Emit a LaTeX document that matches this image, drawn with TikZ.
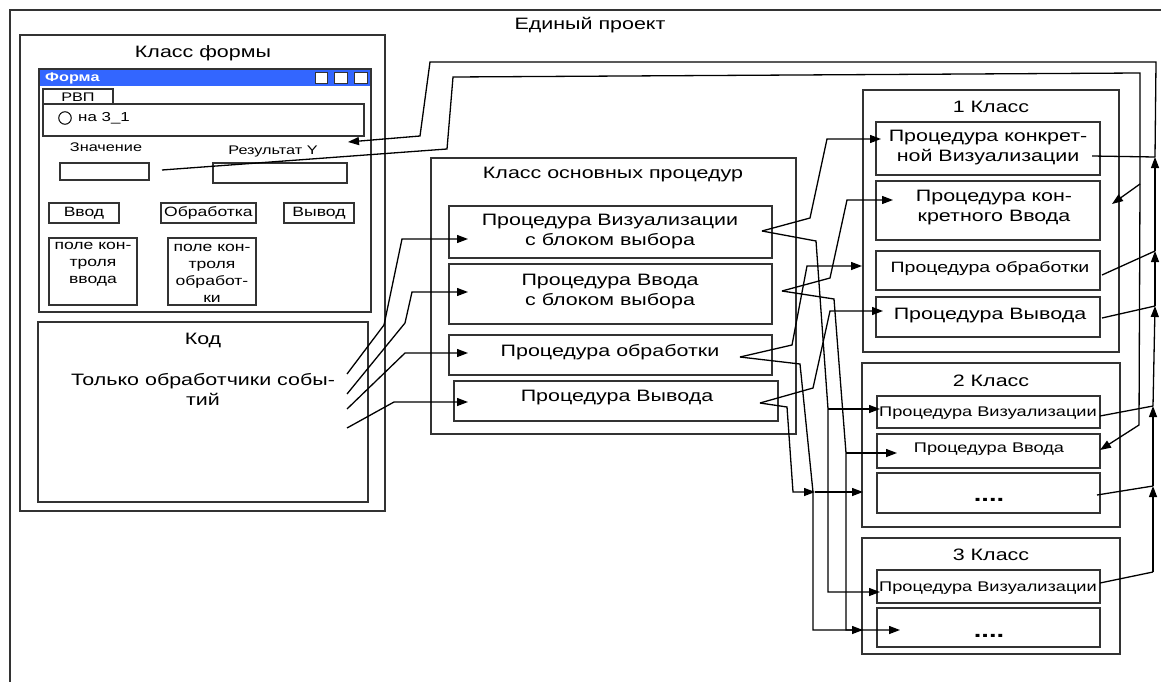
\documentclass[tikz,border=0pt]{standalone}
\usepackage{fontspec}
\setmainfont{Liberation Sans}[FakeStretch=1.3]
\usetikzlibrary{arrows.meta,fit}
\definecolor{winblue}{RGB}{51,102,255}
\begin{document}
\begin{tikzpicture}[x=1pt,y=-1pt,
 box/.style={draw=black!80,line width=1.3pt,inner sep=0pt,minimum size=0pt},
 ln/.style={draw=black,line width=1.3pt},
 arr/.style={ln,-{Triangle[length=11pt,width=8pt]}},
 tA/.style={font=\fontsize{16.5}{20}\selectfont,inner sep=0pt,align=center},
 tB/.style={font=\fontsize{14}{17}\selectfont,inner sep=0pt,align=center},
 tC/.style={font=\fontsize{12.5}{15}\selectfont,inner sep=0pt,align=center},
 tD/.style={font=\fontsize{13.5}{17}\selectfont,inner sep=0pt,align=center},
 dots/.style={font=\bfseries\fontsize{21}{24}\selectfont,inner sep=0pt,anchor=base},
]
\useasboundingbox (0,0) rectangle (1161,682);
\fill[white] (0,0) rectangle (1161,682);
% outer project frame
\node[box,fit={(10,10)(1180,700)}] (project) {};
\node[tA] (tproject) at (590,25) {Единый проект};

% ---------- form class ----------
\node[box,fit={(20,35)(385,511)}] (formclass) {};
\node[tA] (tformclass) at (203,53) {Класс формы};
\node[fill=winblue,inner sep=0pt,minimum size=0pt,fit={(39,69)(371,86)}] (titlebar) {};
\node[box,fit={(39,69)(371,312)}] (window) {};
\node[box,fill=white,line width=1pt,fit={(315,73)(327,84)}] (sq1) {};
\node[box,fill=white,line width=1pt,fit={(334,73)(347,84)}] (sq2) {};
\node[box,fill=white,line width=1pt,fit={(354,73)(367,84)}] (sq3) {};
\node[font=\bfseries\fontsize{12.5}{14}\selectfont,text=white,inner sep=0pt,anchor=west] (tforma) at (45,78) {Форма};
\node[box,fit={(43,89)(113,104)}] (tab) {};
\node[tC,font=\fontsize{12.5}{14}\selectfont] (ttab) at (78,97) {РВП};
\node[box,fit={(43,104)(364,136)}] (group) {};
\node[draw=black,line width=1pt,circle,minimum size=12.5pt,inner sep=0pt] (radio) at (65,118) {};
\node[tC,font=\fontsize{13}{15}\selectfont,anchor=west] (tradio) at (78,118) {на 3\_1};
\node[tC] (tznach) at (106,147) {Значение};
\node[box,fit={(60,163)(149,180)}] (znach) {};
\node[tC] (tres) at (273,151) {Результат Y};
\node[box,fit={(213,163)(347,183)}] (res) {};
\node[box,fit={(49,203)(119,223)}] (bin) {};
\node[tD] at (bin) {Ввод};
\node[box,fit={(161,203)(256,223)}] (bproc) {};
\node[tD] at (bproc) {Обработка};
\node[box,fit={(284,203)(354,223)}] (bout) {};
\node[tD] at (bout) {Вывод};
\node[box,fit={(49,238)(137,305)}] (fld1) {};
\node[tD] (tfld1) at (93,264) {поле кон-\\троля\\ввода};
\node[box,fit={(168,238)(256,305)}] (fld2) {};
\node[tD] (tfld2) at (212,273) {поле кон-\\троля\\обработ-\\ки};
\node[box,fit={(38,322)(368,502)}] (code) {};
\node[tA] (tcode) at (203,340) {Код};
\node[tA] (tcode2) at (203,389) {Только обработчики собы-\\тий};

% ---------- main procedures ----------
\node[box,fit={(431,158)(796,434)}] (main) {};
\node[tA] (tmain) at (613,175) {Класс основных процедур};
\node[box,fit={(449,206)(772,258)}] (P1) {};
\node[tA] at (610,232) {Процедура Визуализации\\с блоком выбора};
\node[box,fit={(449,264)(772,324)}] (P2) {};
\node[tA] at (610,292) {Процедура Ввода\\с блоком выбора};
\node[box,fit={(449,335)(772,375)}] (P3) {};
\node[tA] at (610,352) {Процедура обработки};
\node[box,fit={(454,381)(778,421)}] (P4) {};
\node[tA] at (617,398) {Процедура Вывода};

% ---------- class 1 ----------
\node[box,fit={(863,90)(1119,352)}] (K1) {};
\node[tA] at (991,107) {1 Класс};
\node[box,fit={(876,122)(1100,175)}] (C1a) {};
\node[tA] at (988,148) {Процедура конкрет-\\ной Визуализации};
\node[box,fit={(876,181)(1100,240)}] (C1b) {};
\node[tA] at (994,208) {Процедура кон-\\кретного Ввода};
\node[box,fit={(876,251)(1100,290)}] (C1c) {};
\node[tA,font=\fontsize{15}{18}\selectfont] at (990,269) {Процедура обработки};
\node[box,fit={(876,297)(1100,337)}] (C1d) {};
\node[tA] at (990,316) {Процедура Вывода};

% ---------- class 2 ----------
\node[box,fit={(862,363)(1120,527)}] (K2) {};
\node[tA] at (991,381) {2 Класс};
\node[box,fit={(877,396)(1100,428)}] (C2a) {};
\node[tB] at (988,413) {Процедура Визуализации};
\node[box,fit={(877,434)(1100,468)}] (C2b) {};
\node[tB] at (989,449) {Процедура Ввода};
\node[box,fit={(877,473)(1100,513)}] (C2c) {};
\node[dots] at (989,501) {....};

% ---------- class 3 ----------
\node[box,fit={(862,538)(1120,654)}] (K3) {};
\node[tA] at (991,555) {3 Класс};
\node[box,fit={(877,570)(1100,603)}] (C3a) {};
\node[tB] at (988,588) {Процедура Визуализации};
\node[box,fit={(877,608)(1100,647)}] (C3b) {};
\node[dots] at (989,637) {....};

% ---------- coordinates ----------
\coordinate (f1) at (762,231);
\coordinate (f2) at (782,291);
\coordinate (f3) at (740,357);
\coordinate (f4) at (760,403);
\coordinate (J0) at (1155,157);
\coordinate (J1) at (1155,251);
\coordinate (J2) at (1155,306);
\coordinate (J3) at (1153,406);
\coordinate (J4) at (1153,486);
\coordinate (J5) at (1153,572);
\coordinate (Q) at (1140,184);
\coordinate (V) at (828,409);
\coordinate (W) at (846,453);
\coordinate (X) at (815,492);

% ---------- result bus to form ----------
\draw[ln] (1092,156) -- (J0);
\draw[ln] (1102,275) -- (J1);
\draw[ln] (1102,318) -- (J2);
\draw[ln] (1100,416) -- (J3);
\draw[ln] (1097,495) -- (J4);
\draw[ln] (1100,583) -- (J5);
\draw[arr] (J5) -- (J4);
\draw[arr] (J4) -- (J3);
\draw[arr] (J3) -- (J2);
\draw[arr] (J2) -- (J1);
\draw[arr] (J1) -- (J0);
\draw[arr] (J0) -- (1156,62) -- (430,62) -- (420,136) -- (348,142);

% ---------- input value to class input procedures ----------
\draw[ln] (162,170) -- (447,149) -- (453,77) -- (1140,73) -- (Q);
\draw[arr] (Q) -- (1112,204);
\draw[arr] (Q) -- (1139,425) -- (1100,450);

% ---------- code to main procedures ----------
\draw[arr] (347,374) -- (384,325) -- (402,239) -- (468,239);
\draw[arr] (347,394) -- (405,323) -- (412,292) -- (468,292);
\draw[arr] (347,409) -- (405,353) -- (468,353);
\draw[arr] (347,428) -- (394,402) -- (468,402);

% ---------- main procedures to classes ----------
\draw[arr] (f1) -- (810,218) -- (827,139) -- (881,139);
\draw[arr] (f1) -- (816,241) -- (V) -- (828,592) -- (880,592);
\draw[arr] (V) -- (880,409);
\draw[arr] (f2) -- (830,278) -- (847,200) -- (893,200);
\draw[arr] (f2) -- (834,299) -- (W) -- (846,630) -- (900,630);
\draw[arr] (W) -- (897,453);
\draw[arr] (f3) -- (792,345) -- (807,266) -- (862,266);
\draw[arr] (f3) -- (800,364) -- (813,492) -- (813,630) -- (863,630);
\draw[arr] (f4) -- (813,388) -- (830,311) -- (883,311);
\draw[arr] (f4) -- (787,407) -- (793,492) -- (X);
\draw[arr] (X) -- (863,492);
\end{tikzpicture}
\end{document}
